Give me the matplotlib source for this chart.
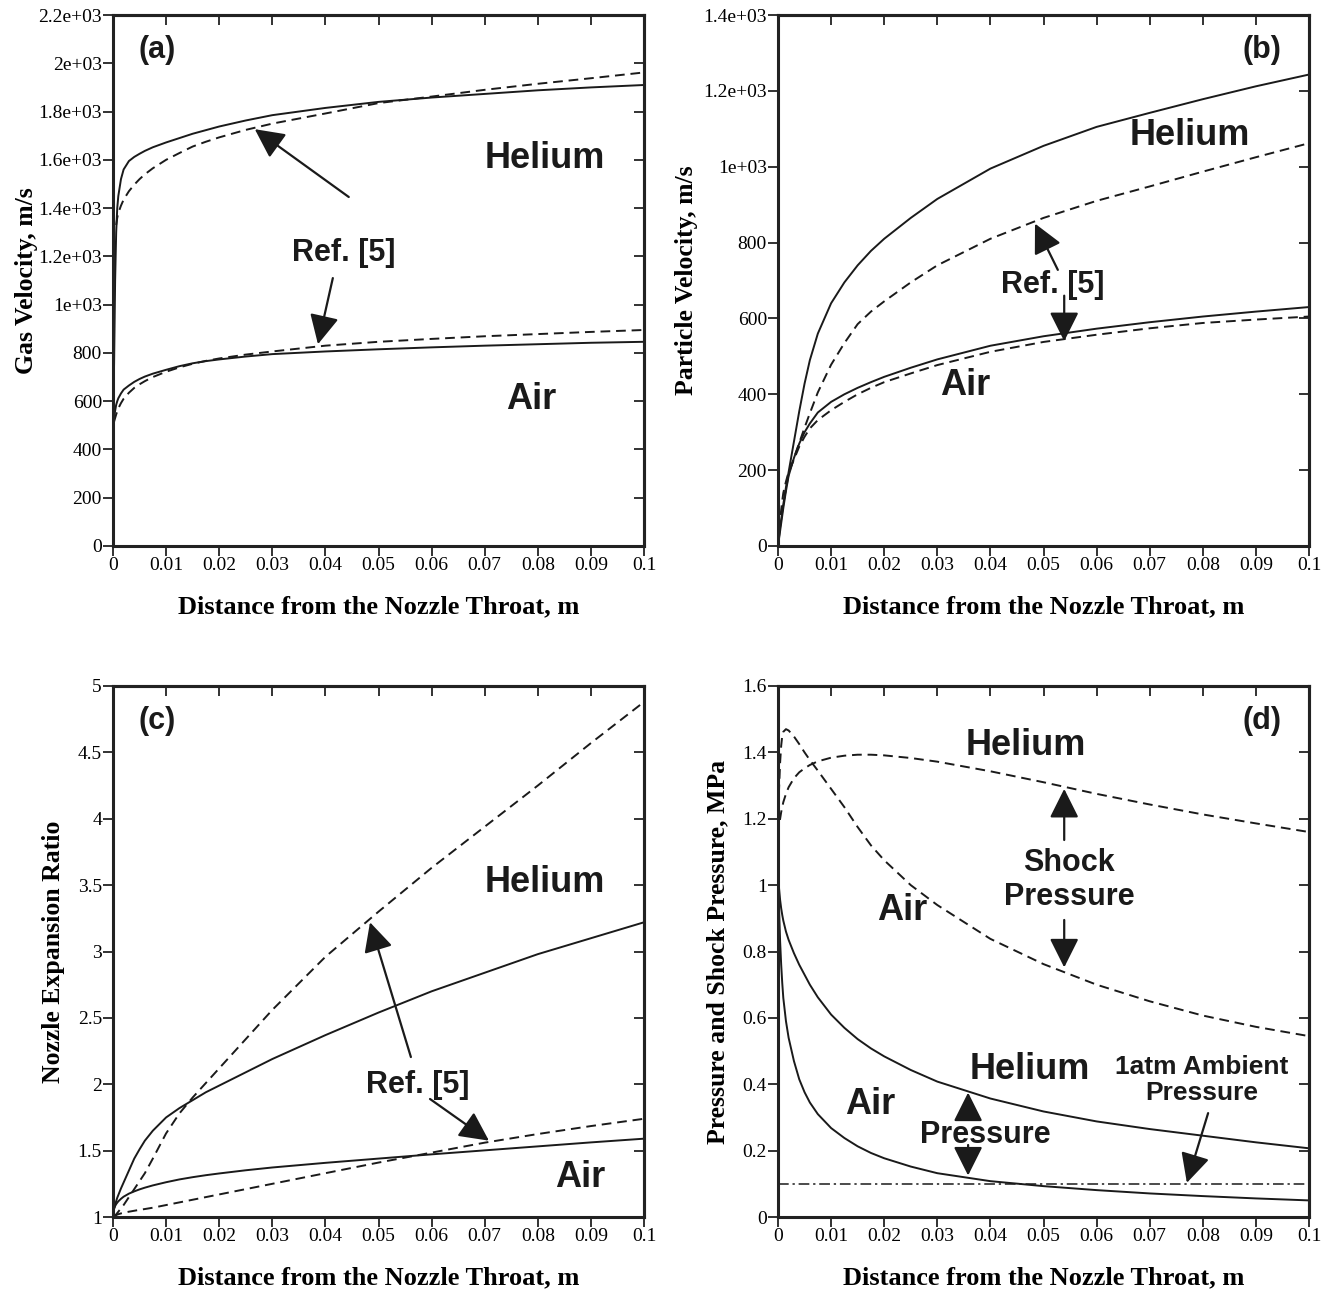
import numpy as np
import matplotlib
matplotlib.use("Agg")
import matplotlib.pyplot as plt

# ---------------------------------------------------------------
# Cold spray nozzle: helium vs air, solid = this model, dashed = Ref. [5]
# ---------------------------------------------------------------

x = [0, 0.0002, 0.0004, 0.0006, 0.0008, 0.001, 0.0015, 0.002, 0.003, 0.004,
     0.005, 0.006, 0.0075, 0.01, 0.0125, 0.015, 0.0175, 0.02, 0.025, 0.03,
     0.04, 0.05, 0.06, 0.07, 0.08, 0.09, 0.1]

# (a) gas velocity, m/s
gas_he = [500, 750, 1100, 1300, 1400, 1450, 1520, 1560, 1595, 1612,
          1625, 1637, 1652, 1672, 1690, 1708, 1723, 1738, 1763, 1785,
          1815, 1840, 1858, 1873, 1888, 1900, 1910]
gas_he_ref = [None, None, None, 1330, 1360, 1380, 1410, 1435, 1470, 1497,
              1520, 1540, 1565, 1600, 1628, 1655, 1675, 1693, 1724, 1750,
              1792, 1835, 1862, 1890, 1915, 1938, 1962]
gas_air = [500, 530, 560, 585, 600, 612, 632, 648, 665, 680,
           692, 702, 714, 730, 745, 757, 766, 773, 785, 795,
           806, 815, 823, 830, 836, 842, 846]
gas_air_ref = [None, 515, 530, 545, 558, 570, 592, 610, 635, 655,
               670, 683, 700, 722, 740, 755, 767, 777, 793, 806,
               830, 846, 858, 869, 878, 887, 895]

# (b) particle velocity, m/s
part_he = [0, 25, 50, 70, 90, 110, 155, 195, 275, 355,
           428, 490, 560, 640, 695, 740, 778, 810, 865, 915,
           995, 1055, 1105, 1142, 1178, 1212, 1243]
part_he_ref = [0, 30, 55, 75, 95, 112, 150, 190, 232, 272,
               312, 350, 405, 478, 535, 585, 618, 645, 695, 740,
               810, 865, 910, 948, 987, 1025, 1062]
part_air = [0, 20, 40, 60, 80, 100, 145, 185, 232, 270,
            300, 323, 352, 380, 400, 417, 432, 446, 470, 492,
            528, 553, 573, 590, 605, 618, 630]
part_air_ref = [0, 40, 70, 95, 120, 140, 170, 195, 228, 262,
                288, 310, 332, 358, 380, 400, 417, 432, 455, 477,
                512, 538, 557, 574, 588, 597, 605]

# (c) nozzle expansion ratio
exp_he = [1, 1.06, 1.09, 1.12, 1.145, 1.165, 1.215, 1.26, 1.35, 1.44,
          1.51, 1.575, 1.65, 1.75, 1.82, 1.88, 1.94, 1.99, 2.09, 2.19,
          2.37, 2.54, 2.7, 2.84, 2.98, 3.1, 3.22]
exp_he_ref = [1, 1.005, 1.01, 1.02, 1.03, 1.04, 1.065, 1.09, 1.15, 1.21,
              1.27, 1.33, 1.44, 1.63, 1.78, 1.9, 2.01, 2.12, 2.34, 2.56,
              2.96, 3.3, 3.63, 3.94, 4.25, 4.57, 4.88]
exp_air = [1, 1.065, 1.083, 1.097, 1.108, 1.118, 1.137, 1.153, 1.176, 1.193,
           1.208, 1.221, 1.238, 1.262, 1.283, 1.3, 1.315, 1.328, 1.352, 1.373,
           1.408, 1.44, 1.472, 1.502, 1.532, 1.562, 1.59]
exp_air_ref = [1, 1.005, 1.01, 1.014, 1.018, 1.021, 1.027, 1.032, 1.04, 1.047,
               1.054, 1.06, 1.07, 1.09, 1.11, 1.13, 1.15, 1.17, 1.21, 1.25,
               1.33, 1.41, 1.485, 1.56, 1.625, 1.685, 1.74]

# (d) pressure and shock pressure, MPa
shock_he = [1.15, 1.18, 1.2, 1.22, 1.235, 1.25, 1.275, 1.295, 1.322, 1.34,
            1.352, 1.362, 1.373, 1.384, 1.39, 1.393, 1.393, 1.391, 1.383, 1.372,
            1.343, 1.31, 1.275, 1.243, 1.213, 1.186, 1.16]
shock_air = [1.18, 1.29, 1.37, 1.42, 1.45, 1.462, 1.47, 1.466, 1.448, 1.425,
             1.4, 1.377, 1.345, 1.29, 1.235, 1.175, 1.12, 1.075, 1.0, 0.94,
             0.838, 0.762, 0.7, 0.65, 0.607, 0.573, 0.545]
pres_he = [1.05, 0.99, 0.955, 0.93, 0.91, 0.893, 0.86, 0.835, 0.795, 0.76,
           0.73, 0.7, 0.662, 0.61, 0.57, 0.536, 0.508, 0.484, 0.443, 0.408,
           0.357, 0.318, 0.288, 0.265, 0.245, 0.225, 0.207]
pres_air = [1.05, 0.93, 0.83, 0.76, 0.705, 0.66, 0.59, 0.54, 0.47, 0.415,
            0.376, 0.345, 0.31, 0.268, 0.238, 0.213, 0.193, 0.177, 0.152, 0.132,
            0.108, 0.093, 0.081, 0.071, 0.063, 0.056, 0.05]
ambient = [0.1] * len(x)

xticks = [0, 0.01, 0.02, 0.03, 0.04, 0.05, 0.06, 0.07, 0.08, 0.09, 0.1]
xlabels = ['0', '0.01', '0.02', '0.03', '0.04', '0.05', '0.06', '0.07', '0.08', '0.09', '0.1']
yt_a = [0, 200, 400, 600, 800, 1000, 1200, 1400, 1600, 1800, 2000, 2200]
yl_a = ['0', '200', '400', '600', '800', '1e+03', '1.2e+03', '1.4e+03', '1.6e+03', '1.8e+03', '2e+03', '2.2e+03']
yt_b = [0, 200, 400, 600, 800, 1000, 1200, 1400]
yl_b = ['0', '200', '400', '600', '800', '1e+03', '1.2e+03', '1.4e+03']
yt_c = [1, 1.5, 2, 2.5, 3, 3.5, 4, 4.5, 5]
yl_c = ['1', '1.5', '2', '2.5', '3', '3.5', '4', '4.5', '5']
yt_d = [0, 0.2, 0.4, 0.6, 0.8, 1.0, 1.2, 1.4, 1.6]
yl_d = ['0', '0.2', '0.4', '0.6', '0.8', '1', '1.2', '1.4', '1.6']

SERIF = 'Liberation Serif'
SANS = 'Liberation Sans'
INK = '#1a1a1a'
LW = 1.4
DASH = (0, (5, 3))

W, H = 1331, 1293
fig = plt.figure(figsize=(W / 100, H / 100), dpi=100)


def make_ax(px_left, px_top, yt, yl, ylim, ylabel, ylab_x):
    ax = fig.add_axes([px_left / W, 1 - (px_top + 531) / H, 531 / W, 531 / H])
    ax.set_xlim(0, 0.1)
    ax.set_ylim(*ylim)
    ax.set_xticks(xticks)
    ax.set_xticklabels(xlabels, fontfamily=SERIF, fontsize=14)
    ax.set_yticks(yt)
    ax.set_yticklabels(yl, fontfamily=SERIF, fontsize=14)
    ax.tick_params(direction='out', length=7, width=1.3, pad=1, color='#222222')
    for s in ax.spines.values():
        s.set_linewidth(2.2)
        s.set_color('#222222')
    # inward ticks on top / right
    top = ax.secondary_xaxis('top')
    top.set_xticks(xticks)
    top.tick_params(direction='in', length=7, width=1.3, labeltop=False, color='#222222')
    top.spines['top'].set_linewidth(2.2)
    right = ax.secondary_yaxis('right')
    right.set_yticks(yt)
    right.tick_params(direction='in', length=7, width=1.3, labelright=False, color='#222222')
    right.spines['right'].set_linewidth(2.2)
    ax.set_xlabel('Distance from the Nozzle Throat, m', fontfamily=SERIF,
                  fontweight='bold', fontsize=19, va='top')
    ax.xaxis.set_label_coords(0.5, -0.092)
    ax.set_ylabel(ylabel, fontfamily=SERIF, fontweight='bold', fontsize=18.5)
    ax.yaxis.set_label_coords(ylab_x, 0.5)
    return ax


def label(ax, xx, yy, s, size=26):
    ax.text(xx, yy, s, fontfamily=SANS, fontweight='bold', fontsize=size,
            ha='center', va='center', color=INK, linespacing=1.15)


def arrow(ax, tail, head):
    ax.annotate('', xy=head, xytext=tail,
                arrowprops=dict(arrowstyle='-|>,head_length=0.9,head_width=0.45',
                                color=INK, lw=1.6, shrinkA=0, shrinkB=0,
                                mutation_scale=20))


def series(vals):
    xs = [a for a, v in zip(x, vals) if v is not None]
    ys = [v for v in vals if v is not None]
    return xs, ys


# (a) gas velocity
ax = make_ax(113, 15, yt_a, yl_a, (0, 2200), 'Gas Velocity, m/s', -0.142)
ax.plot(*series(gas_he), color=INK, lw=LW)
ax.plot(*series(gas_he_ref), color=INK, lw=LW, ls=DASH)
ax.plot(*series(gas_air), color=INK, lw=LW)
ax.plot(*series(gas_air_ref), color=INK, lw=LW, ls=DASH)
label(ax, 0.0083, 2055, '(a)', 22)
label(ax, 0.0814, 1607, 'Helium')
label(ax, 0.0435, 1214, 'Ref. [5]', 22)
label(ax, 0.0787, 609, 'Air')
arrow(ax, (0.0444, 1446), (0.0267, 1727))
arrow(ax, (0.0414, 1110), (0.0386, 836))

# (b) particle velocity
ax = make_ax(778, 15, yt_b, yl_b, (0, 1400), 'Particle Velocity, m/s', -0.15)
ax.plot(*series(part_he), color=INK, lw=LW)
ax.plot(*series(part_he_ref), color=INK, lw=LW, ls=DASH)
ax.plot(*series(part_air), color=INK, lw=LW)
ax.plot(*series(part_air_ref), color=INK, lw=LW, ls=DASH)
label(ax, 0.0911, 1308, '(b)', 22)
label(ax, 0.0776, 1081, 'Helium')
label(ax, 0.0518, 688, 'Ref. [5]', 22)
label(ax, 0.0352, 422, 'Air')
arrow(ax, (0.0527, 728), (0.0484, 850))
arrow(ax, (0.0539, 660), (0.0539, 540))

# (c) nozzle expansion ratio
ax = make_ax(113, 686, yt_c, yl_c, (1, 5), 'Nozzle Expansion Ratio', -0.09)
ax.plot(*series(exp_he), color=INK, lw=LW)
ax.plot(*series(exp_he_ref), color=INK, lw=LW, ls=DASH)
ax.plot(*series(exp_air), color=INK, lw=LW)
ax.plot(*series(exp_air_ref), color=INK, lw=LW, ls=DASH)
label(ax, 0.0083, 4.736, '(c)', 22)
label(ax, 0.0814, 3.52, 'Helium')
label(ax, 0.0573, 1.994, 'Ref. [5]', 22)
label(ax, 0.088, 1.30, 'Air')
arrow(ax, (0.0561, 2.205), (0.0484, 3.22))
arrow(ax, (0.0597, 1.889), (0.0708, 1.575))

# (d) pressure and shock pressure
ax = make_ax(778, 686, yt_d, yl_d, (0, 1.6), 'Pressure and Shock Pressure, MPa', -0.092)
ax.plot(x, shock_he, color=INK, lw=LW, ls=DASH)
ax.plot(x, shock_air, color=INK, lw=LW, ls=DASH)
ax.plot(x, pres_he, color=INK, lw=LW)
ax.plot(x, pres_air, color=INK, lw=LW)
ax.plot(x, ambient, color=INK, lw=1.1, ls=(0, (7, 2.5, 1.5, 2.5)))
label(ax, 0.0911, 1.494, '(d)', 22)
label(ax, 0.0467, 1.422, 'Helium')
label(ax, 0.0548, 1.015, 'Shock\nPressure', 22)
arrow(ax, (0.0539, 1.136), (0.0539, 1.29))
arrow(ax, (0.0539, 0.895), (0.0539, 0.752))
label(ax, 0.0234, 0.925, 'Air')
label(ax, 0.0475, 0.443, 'Helium')
label(ax, 0.0173, 0.3375, 'Air')
label(ax, 0.039, 0.247, 'Pressure', 22)
arrow(ax, (0.0358, 0.307), (0.0358, 0.375))
arrow(ax, (0.0358, 0.217), (0.0358, 0.125))
label(ax, 0.0798, 0.413, '1atm Ambient\nPressure', 19)
arrow(ax, (0.081, 0.313), (0.077, 0.103))

fig.savefig('out.png', dpi=100)
